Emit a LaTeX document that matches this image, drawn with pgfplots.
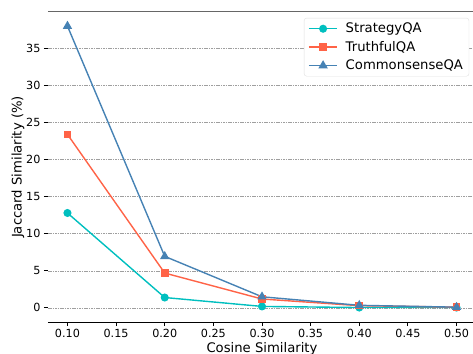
\documentclass[border=0pt]{standalone}
\usepackage{pgfplots}
\pgfplotsset{compat=1.18}
\usepackage{fontspec}
\setmainfont{DejaVu Sans}
\definecolor{cstrat}{HTML}{00BFBF}
\definecolor{ctruth}{HTML}{FF6347}
\definecolor{ccommon}{HTML}{4682B4}
\begin{document}
\begin{tikzpicture}
\useasboundingbox (-48pt,-31pt) rectangle (425pt,322pt);
\clip (-48pt,-31pt) rectangle (425pt,322pt);
\begin{axis}[
  at={(0pt,0pt)}, anchor=south west,
  scale only axis, width=428pt, height=310pt,
  xmin=0.08, xmax=0.52, ymin=-1.9, ymax=39.9,
  axis x line*=bottom, axis y line*=left,
  y axis line style={draw=none},
  x axis line style={line width=0.9pt},
  tick align=outside,
  major tick length=4pt,
  every tick/.style={black, line width=0.9pt},
  xtick={0.10,0.15,0.20,0.25,0.30,0.35,0.40,0.45,0.50},
  ytick={0,5,10,15,20,25,30,35},
  xticklabel style={/pgf/number format/.cd, fixed, fixed zerofill, precision=2},
  /pgf/number format/assume math mode=true,
  tick label style={font=\fontsize{11.2}{13}\selectfont},
  label style={font=\fontsize{13.2}{15}\selectfont},
  xlabel={Cosine Similarity},
  ylabel={Jaccard Similarity (\%)},
  xlabel style={yshift=2pt},
  ylabel style={yshift=-5pt},
  ymajorgrids,
  grid style={gray!75, dash pattern=on 1.6pt off 0.8pt, line width=0.6pt},
  legend style={at={(0.984,0.981)}, anchor=north east, draw=gray!25, rounded corners=2.5pt,
     font=\fontsize{13.2}{15}\selectfont, inner xsep=4pt, inner ysep=3pt, row sep=3pt},
  legend cell align=left,
  legend image code/.code={\draw[mark repeat=2,mark phase=2,line width=1.4pt] plot coordinates {(0cm,0cm) (0.5cm,0cm) (1.0cm,0cm)};
     \path (1.2cm,0cm);},
]
\addplot[cstrat, line width=1.4pt, mark=*, mark size=3.3pt] coordinates {
  (0.1,12.8) (0.2,1.4) (0.3,0.2) (0.4,0.05) (0.5,0.05)};
\addlegendentry{StrategyQA}
\addplot[ctruth, line width=1.4pt, mark=square*, mark size=3.1pt] coordinates {
  (0.1,23.4) (0.2,4.7) (0.3,1.2) (0.4,0.3) (0.5,0.1)};
\addlegendentry{TruthfulQA}
\addplot[ccommon, line width=1.4pt, mark=triangle*, mark size=4pt] coordinates {
  (0.1,38.0) (0.2,6.95) (0.3,1.5) (0.4,0.35) (0.5,0.1)};
\addlegendentry{CommonsenseQA}
\draw[gray!80!black, line width=1pt] (rel axis cs:0,1) -- (rel axis cs:1,1);
\end{axis}
\end{tikzpicture}
\end{document}
